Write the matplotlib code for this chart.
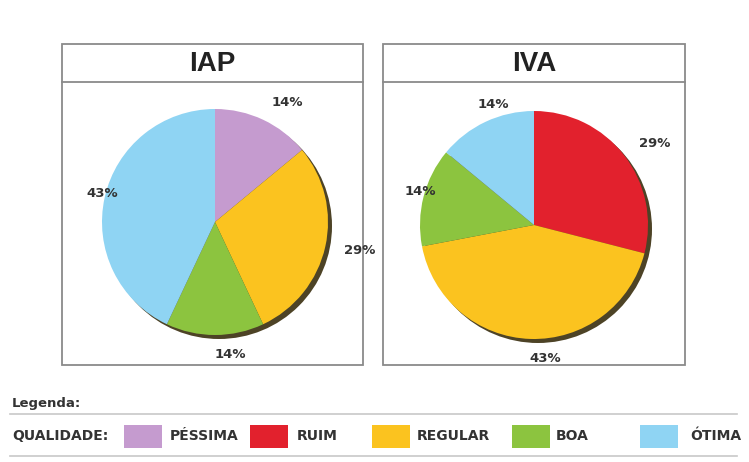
import matplotlib

matplotlib.use("Agg")
import matplotlib.pyplot as plt
from matplotlib.patches import Rectangle, Circle

plt.rcParams["font.family"] = ["DejaVu Sans"]

W, H = 749, 462

CATEGORIES = ["PÉSSIMA", "RUIM", "REGULAR", "BOA", "ÓTIMA"]
COLORS = ["#c59bcf", "#e2212d", "#fbc31f", "#8cc43f", "#8fd4f3"]

# IAP: slices clockwise from top
IAP_CATS = ["PÉSSIMA", "REGULAR", "BOA", "ÓTIMA"]
IAP_PCT = [14, 29, 14, 43]

# IVA: slices clockwise from top
IVA_CATS = ["RUIM", "REGULAR", "BOA", "ÓTIMA"]
IVA_PCT = [29, 43, 14, 14]

color_of = dict(zip(CATEGORIES, COLORS))


def ty(y):
    # convert top-based pixel y to axes y
    return H - y


def panel(ax, x0, x1, title, cats, pct, center, radius):
    y0, y1, yband = 44, 365, 82
    ax.add_patch(Rectangle((x0, ty(y1)), x1 - x0, y1 - y0, fill=False,
                           edgecolor="#8a8a8a", lw=1.3, zorder=1))
    ax.plot([x0, x1], [ty(yband), ty(yband)], color="#8a8a8a", lw=1.3, zorder=1)
    ax.text((x0 + x1) / 2, ty((y0 + yband) / 2 + 1), title, ha="center", va="center",
            fontsize=20, fontweight="bold", family=["Liberation Sans", "DejaVu Sans"],
            color="#222222")

    cx, cy = center[0], ty(center[1])
    # dark rim / shadow for the 3d look
    ax.add_patch(Circle((cx + 4, cy - 4), radius, color="#2e2200", alpha=0.85, zorder=2,
                        lw=0))
    ax.pie(pct, colors=[color_of[c] for c in cats], startangle=90, counterclock=False,
           center=(cx, cy), radius=radius, labels=[f"{p}%" for p in pct],
           labeldistance=1.17,
           wedgeprops=dict(linewidth=0, zorder=3),
           textprops=dict(fontsize=9.5, fontweight="bold", color="#333333"))


fig = plt.figure(figsize=(W / 100, H / 100), dpi=100)
ax = fig.add_axes([0, 0, 1, 1])

panel(ax, 62, 363, "IAP", IAP_CATS, IAP_PCT, (215, 222), 113)
panel(ax, 383, 685, "IVA", IVA_CATS, IVA_PCT, (534, 225), 114)

ax.set_xlim(0, W)
ax.set_ylim(0, H)
ax.set_aspect("equal")
ax.axis("off")

# legend block
ax.text(12, ty(403), "Legenda:", ha="left", va="center", fontsize=9.5,
        fontweight="bold", color="#333333")
ax.plot([10, 737], [ty(414), ty(414)], color="#c8c8c8", lw=1.2)
ax.plot([10, 737], [ty(456), ty(456)], color="#c8c8c8", lw=1.2)
ax.text(12, ty(436), "QUALIDADE:", ha="left", va="center", fontsize=10,
        fontweight="bold", color="#333333")

swatch_x = [124, 250, 372, 512, 640]
text_x = [170, 297, 417, 556, 690]
for cat, sx, tx in zip(CATEGORIES, swatch_x, text_x):
    ax.add_patch(Rectangle((sx, ty(448)), 38, 23, color=color_of[cat], lw=0))
    ax.text(tx, ty(436), cat, ha="left", va="center", fontsize=10,
            fontweight="bold", color="#333333")

fig.savefig("out.png", dpi=100)
